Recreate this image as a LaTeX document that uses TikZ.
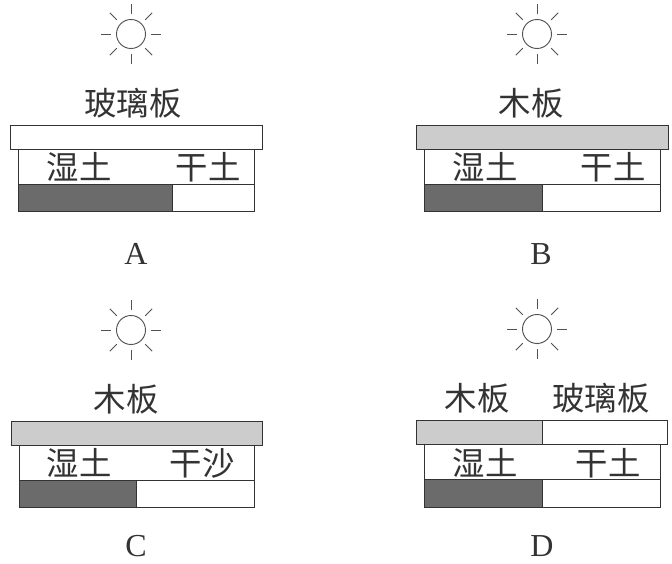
\documentclass[tikz,border=0pt]{standalone}
\usepackage{fontspec}
\setmainfont{Liberation Serif}
\newfontfamily\cjk{Noto Sans CJK SC}
\usetikzlibrary{calc}
\definecolor{ink}{gray}{0.2}
\definecolor{woodgray}{gray}{0.80}
\definecolor{soilgray}{gray}{0.42}
\tikzset{
  outline/.style={draw=ink,line width=0.7pt},
  ray/.style={draw=ink!85,line width=0.7pt},
  cnlabel/.style={text=ink,inner sep=0pt,font=\cjk\fontsize{24.3pt}{26pt}\selectfont},
  letter/.style={text=ink,inner sep=0pt,font=\fontsize{24pt}{25pt}\selectfont}
}
% #1 = sun x, #2 = sun y
\newcommand{\sunicon}[2]{%
  \draw[ray] (#1,#2) circle[radius=14.5];
  \foreach \a in {0,45,...,315}
    \draw[ray] ($(#1,#2)+(\a:20)$) -- ($(#1,#2)+(\a:30)$);
}
\begin{document}
\begin{tikzpicture}[x=0.75pt,y=-0.75pt]
\useasboundingbox (0,0) rectangle (672,564);
\fill[white] (0,0) rectangle (672,564);

% Panel A
\sunicon{131}{34}
\node[cnlabel] (labA) at (133,103) {玻璃板};
\draw[outline] (10,125) rectangle (262,149);
\fill[soilgray] (18,184) rectangle (172,211);
\draw[outline] (18,149) rectangle (254,211);
\draw[outline] (18,184) -- (254,184);
\draw[outline] (172,184) -- (172,211);
\node[cnlabel] (wetA) at (79,167) {湿土};
\node[cnlabel] (dryA) at (208,167) {干土};
\node[letter] (A) at (136,254) {A};

% Panel B
\sunicon{537}{34}
\node[cnlabel] (labB) at (531,103) {木板};
\fill[woodgray] (416,125) rectangle (668,149);
\draw[outline] (416,125) rectangle (668,149);
\fill[soilgray] (424,184) rectangle (542,211);
\draw[outline] (424,149) rectangle (660,211);
\draw[outline] (424,184) -- (660,184);
\draw[outline] (542,184) -- (542,211);
\node[cnlabel] (wetB) at (485,167) {湿土};
\node[cnlabel] (dryB) at (613,167) {干土};
\node[letter] (B) at (541,254) {B};

% Panel C
\sunicon{131}{330}
\node[cnlabel] (labC) at (126,399) {木板};
\fill[woodgray] (11,421) rectangle (262,445);
\draw[outline] (11,421) rectangle (262,445);
\fill[soilgray] (19,480) rectangle (136,507);
\draw[outline] (19,445) rectangle (254,507);
\draw[outline] (19,480) -- (254,480);
\draw[outline] (136,480) -- (136,507);
\node[cnlabel] (wetC) at (79,463) {湿土};
\node[cnlabel] (dryC) at (202,463) {干沙};
\node[letter] (C) at (136,546) {C};

% Panel D
\sunicon{537}{329}
\node[cnlabel] (labD1) at (477,398) {木板};
\node[cnlabel] (labD2) at (601,398) {玻璃板};
\fill[woodgray] (416,420) rectangle (542,444);
\draw[outline] (416,420) rectangle (667,444);
\draw[outline] (542,420) -- (542,444);
\fill[soilgray] (424,479) rectangle (542,507);
\draw[outline] (424,444) rectangle (660,507);
\draw[outline] (424,479) -- (660,479);
\draw[outline] (542,479) -- (542,507);
\node[cnlabel] (wetD) at (485,463) {湿土};
\node[cnlabel] (dryD) at (608,463) {干土};
\node[letter] (D) at (542,546) {D};
\end{tikzpicture}
\end{document}
